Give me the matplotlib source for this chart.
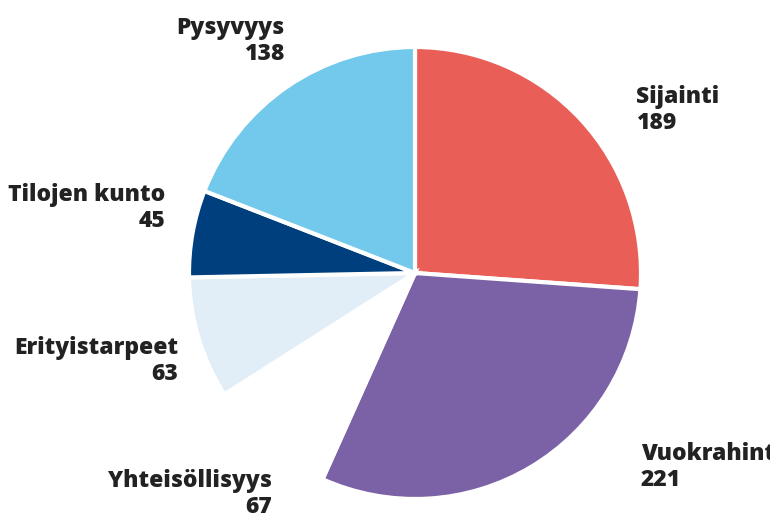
import matplotlib
matplotlib.use('Agg')
import matplotlib.pyplot as plt

plt.rcParams['font.family'] = ['Open Sans', 'DejaVu Sans']

# data
labels = ['Sijainti', 'Vuokrahinta', 'Yhteisöllisyys', 'Erityistarpeet', 'Tilojen kunto', 'Pysyvyys']
values = [189, 221, 67, 63, 45, 138]
colors = ['#E95F58', '#7B62A6', '#FFFFFF', '#E1EDF7', '#003F7D', '#72C9EB']

# label anchor points (pixels) and alignment
label_pos = [(636, 110, 'left'), (641, 467, 'left'), (272, 494, 'right'),
             (178, 361, 'right'), (165, 208, 'right'), (284, 41, 'right')]

fig = plt.figure(figsize=(7.7, 5.16), dpi=100)
ax = fig.add_axes([0, 0, 1, 1])

ax.pie(values, colors=colors, startangle=90, counterclock=False,
       center=(415, 516 - 273), radius=226, frame=True,
       wedgeprops=dict(edgecolor='white', linewidth=3))
ax.set_xlim(0, 770)
ax.set_ylim(0, 516)
ax.set_aspect('equal')
ax.axis('off')

for lab, val, (x, y, ha) in zip(labels, values, label_pos):
    ax.text(x, 516 - y, f'{lab}\n{val}', ha=ha, va='center', multialignment=ha,
            fontsize=16.5, fontweight='heavy', color='#222222', linespacing=1.1,
            clip_on=False)

plt.savefig('out.png', dpi=100)
